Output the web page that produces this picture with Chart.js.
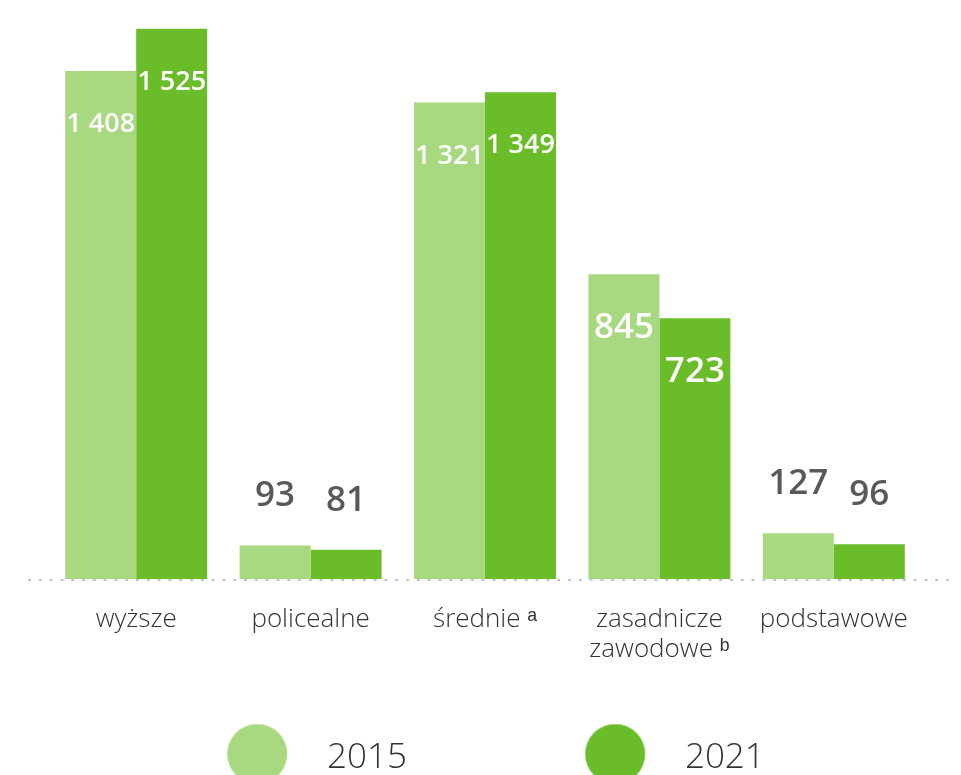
<!DOCTYPE html>
<html lang="pl">
<head>
<meta charset="utf-8">
<script src="https://cdn.jsdelivr.net/npm/chart.js@4/dist/chart.umd.min.js"></script>
<style>
    html, body { margin: 0; padding: 0; background: #fff; overflow: hidden; }
    #wrap { position: relative; width: 961px; height: 786px; }
</style>
</head>
<body>
<div id="wrap"><canvas id="eduChart"></canvas></div>
<script>
// Dane z wykresu
const categories = ['wyższe', 'policealne', 'średnie ᵃ', ['zasadnicze', 'zawodowe ᵇ'], 'podstawowe'];
const years = ['2015', '2021'];
const values2015 = [1408, 93, 1321, 845, 127];
const values2021 = [1525, 81, 1349, 723, 96];
const yMax = 1605;

const colors = ['#a8d880', '#6abd28'];
const legendBox = 242.5; // szerokość pola legendy (kółko + odstęp)

// kółko legendy jako obrazek, przesunięte w prawo w obrębie pola
function dotImage(color) {
    const c = document.createElement('canvas');
    c.width = legendBox;
    c.height = 70;
    const g = c.getContext('2d');
    g.fillStyle = color;
    g.beginPath();
    g.arc(legendBox - 52.5, 30.5, 30, 0, Math.PI * 2);
    g.fill();
    return c;
}
const dots = colors.map(dotImage);

function fmt(v) {
    return String(v).replace(/\B(?=(\d{3})+(?!\d))/g, ' ');
}

// etykiety wartości: w środku słupka (białe) albo nad nim (szare)
const valueLabels = {
    id: 'valueLabels',
    afterDatasetsDraw(chart) {
        const ctx = chart.ctx;
        ctx.save();
        ctx.textAlign = 'center';
        ctx.textBaseline = 'alphabetic';
        chart.data.datasets.forEach((ds, i) => {
            chart.getDatasetMeta(i).data.forEach((bar, j) => {
                const v = ds.data[j];
                const size = v >= 1000 ? 27 : 35;
                const inside = v > 500;
                const cy = inside ? bar.y + 51.5 : bar.y - 51.5;
                ctx.font = '600 ' + size + 'px "Open Sans", sans-serif';
                ctx.fillStyle = inside ? '#ffffff' : '#58595b';
                ctx.fillText(fmt(v), bar.x, cy + size * 0.357);
            });
        });
        ctx.restore();
    }
};

// kropkowana linia bazowa
const baseLine = {
    id: 'baseLine',
    afterDatasetsDraw(chart) {
        const ctx = chart.ctx;
        const y = chart.scales.y.getPixelForValue(0) + 1;
        ctx.save();
        ctx.strokeStyle = '#c4c4c4';
        ctx.lineWidth = 2;
        ctx.setLineDash([3, 7.8]);
        ctx.beginPath();
        ctx.moveTo(28, y);
        ctx.lineTo(950, y);
        ctx.stroke();
        ctx.restore();
    }
};

new Chart(document.getElementById('eduChart'), {
    type: 'bar',
    data: {
        labels: categories,
        datasets: [
            { label: years[0], data: values2015, backgroundColor: colors[0] },
            { label: years[1], data: values2021, backgroundColor: colors[1] }
        ]
    },
    options: {
        responsive: true,
        maintainAspectRatio: false,
        animation: false,
        categoryPercentage: 0.814,
        barPercentage: 1,
        layout: { padding: { left: 49, right: 40, top: 0, bottom: 0 } },
        plugins: {
            tooltip: { enabled: false },
            legend: {
                position: 'bottom',
                align: 'start',
                fullSize: false,
                labels: {
                    usePointStyle: true,
                    pointStyleWidth: legendBox,
                    padding: 18,
                    color: '#333333',
                    font: { family: '"Open Sans", sans-serif', size: 35, weight: '300' },
                    generateLabels(chart) {
                        const items = Chart.defaults.plugins.legend.labels.generateLabels(chart);
                        items.forEach((it, i) => { it.pointStyle = dots[i]; });
                        return items;
                    }
                }
            }
        },
        scales: {
            x: {
                grid: { display: false },
                border: { display: false },
                ticks: {
                    color: '#333333',
                    padding: 18,
                    maxRotation: 0,
                    autoSkip: false,
                    font: { family: '"Open Sans", sans-serif', size: 26, weight: '300', lineHeight: 1.15 }
                },
                afterFit(scale) { scale.height = 144; }
            },
            y: {
                display: false,
                min: 0,
                max: yMax
            }
        }
    },
    plugins: [valueLabels, baseLine]
});
</script>
</body>
</html>
